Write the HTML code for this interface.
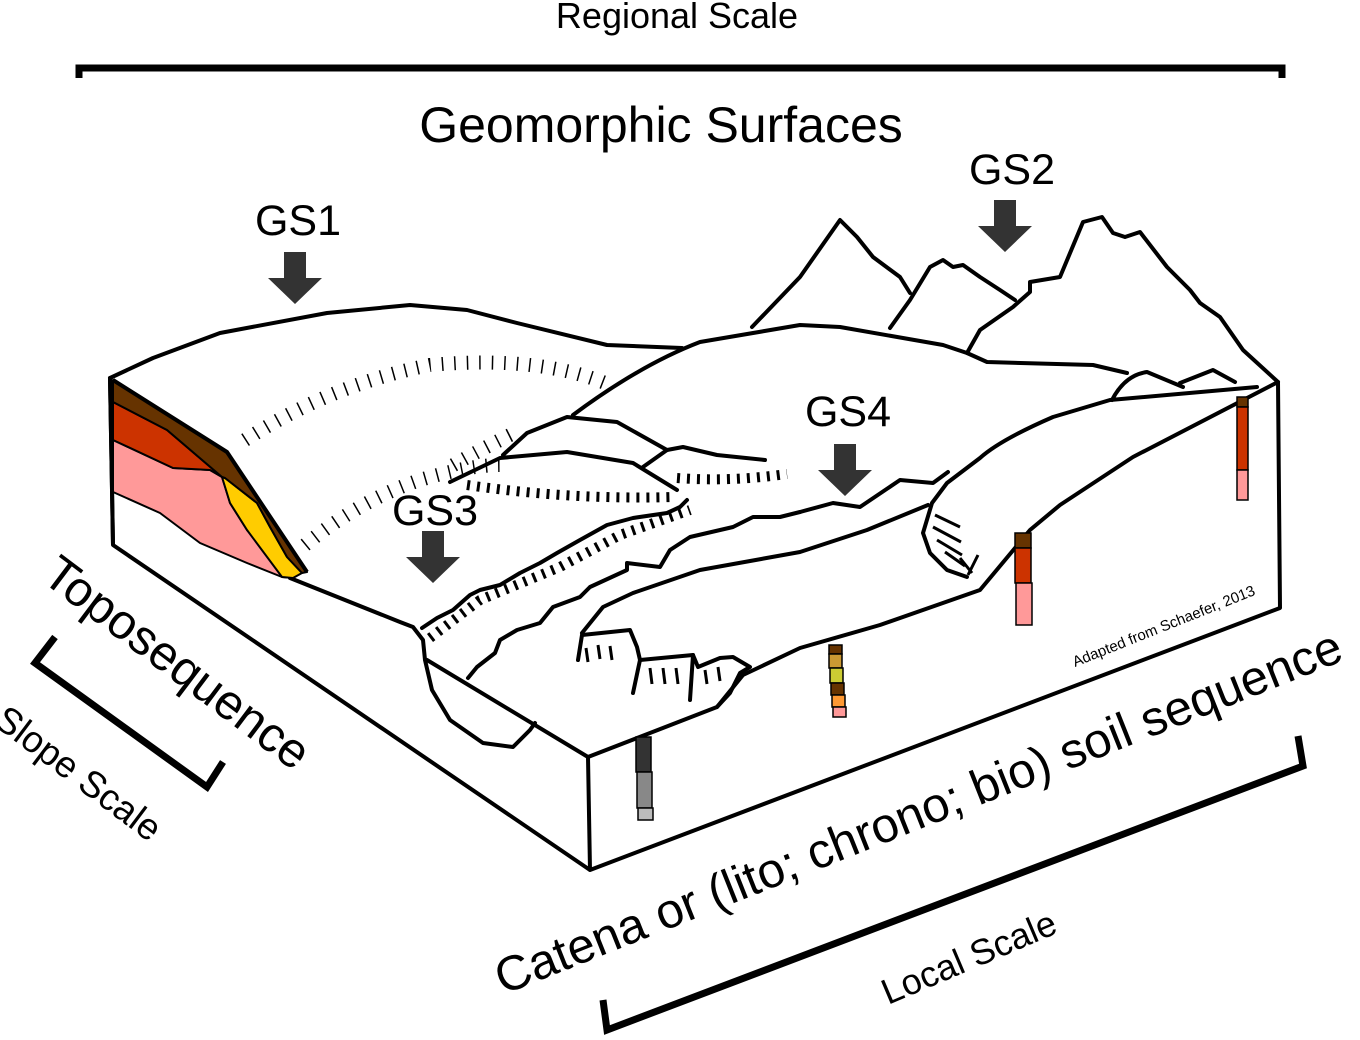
<!DOCTYPE html>
<html><head><meta charset="utf-8"><style>
html,body{margin:0;padding:0;background:#fff;}
svg{display:block;}
text{font-family:"Liberation Sans",Arial,sans-serif;fill:#000;}
</style></head><body>
<svg width="1360" height="1040" viewBox="0 0 1360 1040" xmlns="http://www.w3.org/2000/svg">
<rect width="1360" height="1040" fill="#fff"/>
<text x="677" y="28" font-size="36" text-anchor="middle">Regional Scale</text>
<path d="M79,78 V68 H1282 V78" fill="none" stroke="#000" stroke-width="7"/>
<text x="661" y="142" font-size="50" text-anchor="middle">Geomorphic Surfaces</text>

<g fill="none" stroke="#000" stroke-width="4" stroke-linejoin="round" stroke-linecap="round">
<path d="M752,327 L800,277 L840,220 L857,237 L873,257 L900,277 L910,293"/>
<path d="M890,328 L910,300 L930,267 L943,260 L953,267 L963,265 L980,277 L1000,290 L1015,300"/>
<path d="M967,353 L980,330 L1013,307 L1030,292 L1030,282 L1060,277 L1083,222 L1102,217 L1113,233 L1125,237 L1140,232 L1167,267 L1190,290 L1200,303 L1220,317 L1243,350 L1278,382"/>
<path d="M110,378 L153,358 L220,333 L327,313 L410,305 L467,310 L517,323 L607,345 L682,348"/>
<path d="M573,415 Q640,365 700,342 L800,325 L840,327 L943,345 L967,353 L987,362 L1093,365 L1127,373"/>
<path d="M1112,400 Q1125,375 1147,372 L1183,387"/>
<path d="M1180,383 L1213,370 L1235,382"/>
<path d="M1257,387 L1110,400 L1053,417 Q1000,440 980,458 L947,483 L932,503 L923,533 L930,553 L947,570 L967,577"/>
<path d="M110,378 L113,545 L590,870 L1280,608 L1278,382 L1133,457 L1060,505 L1030,530 L980,590 L880,625 L800,648 L743,675 L717,707 L650,733 L588,757 L590,870"/>
<path d="M588,757 L427,660"/>
<path d="M290,578 L400,622 L413,627 L423,640 L425,660 L432,690 L450,720 L483,743 L513,747 L530,730 L535,723"/>
<path d="M800,512 L833,503 L860,507 L900,480 L933,483 L948,472"/>
<path d="M582,633 L603,607 L633,593 L700,570 L800,552 L867,530 L928,505"/>
<path d="M503,455 L527,433 L567,417 L617,422 L667,450"/>
<path d="M450,482 L500,458 L567,452 L633,463 L677,490"/>
<path d="M643,467 L667,450 L683,447 L717,455 L765,460"/>
<path d="M422,628 L437,618 L453,610 L470,595 L480,590 L500,585 L520,573 L540,563 L557,553 L580,540 L607,525 L633,518 L667,513 L680,507 L687,500"/>
<path d="M468,678 L477,667 L495,653 L500,640 L517,630 L540,623 L553,607 L580,597 L590,587 L627,570 L627,563 L660,567 L670,550 L690,537 L733,527 L753,517 L780,517 L800,512"/>
<path d="M578,660 L582,635 L630,630 L637,647 L640,660 L693,655 L698,667 L720,658 L733,657 L750,667 L740,673 L730,693 L717,707"/>
<path d="M640,660 L633,693"/><path d="M693,655 L690,700"/>
</g>
<g fill="none" stroke="#000" stroke-width="14" stroke-dasharray="1.5 11">
<path d="M245,440 Q330,385 430,365 Q540,355 610,385"/>
<path d="M305,545 Q360,500 420,480 Q470,465 500,465"/>
<path d="M510,435 Q470,455 445,470"/>
</g>
<g fill="none" stroke="#000" stroke-width="10" stroke-dasharray="3 7">
<path d="M467,485 Q570,500 673,497"/>
<path d="M677,478 Q730,482 787,474"/>
<path d="M430,638 L480,600 L560,567 L620,535 L690,510"/>
</g>
<g fill="none" stroke="#000" stroke-width="3">
<path d="M586,648 l2,14 M598,645 l2,14 M610,646 l2,14 M650,668 l2,16 M663,668 l2,16 M676,668 l2,16 M705,670 l2,14 M718,667 l2,14"/>
<path d="M935,515 l25,12 M933,527 l28,15 M937,540 l25,15 M945,552 l20,14 M960,558 l12,15 M978,555 l-10,20"/>
</g>
<g stroke="#000" stroke-width="2" stroke-linejoin="round">
<path d="M113,492 L160,513 L200,543 L247,563 L282,577 L293,578 L247,530 L230,503 L222,477 L210,470 L173,468 L113,440 Z" fill="#ff9999"/>
<path d="M113,440 L173,468 L210,470 L222,477 L167,430 L113,402 Z" fill="#cc3300"/>
<path d="M222,477 L230,503 L247,530 L282,577 L293,578 L302,573 L287,557 L270,527 L257,503 L225,478 Z" fill="#ffcc00"/>
<path d="M113,380 L227,452 L307,572 L302,573 L287,557 L270,527 L257,503 L225,478 L222,477 L167,430 L113,402 Z" fill="#663300"/>
</g>
<g fill="none" stroke="#000" stroke-width="4" stroke-linejoin="round">
<path d="M110,378 L113,545"/><path d="M113,380 L227,452 L307,572"/>
</g>
<g stroke="#000" stroke-width="1.5">
<rect x="636" y="737" width="15" height="35" fill="#333"/>
<rect x="637" y="772" width="15" height="36" fill="#888"/>
<rect x="638" y="808" width="15" height="12" fill="#bbb"/>
<rect x="829" y="645" width="13" height="9" fill="#663300"/>
<rect x="829" y="654" width="13" height="14" fill="#cc9933"/>
<rect x="830" y="668" width="13" height="15" fill="#cccc33"/>
<rect x="831" y="683" width="13" height="12" fill="#663300"/>
<rect x="832" y="695" width="13" height="12" fill="#ff9933"/>
<rect x="833" y="707" width="13" height="10" fill="#ff9999"/>
<rect x="1015" y="533" width="16" height="15" fill="#663300"/>
<rect x="1015" y="548" width="16" height="35" fill="#cc3300"/>
<rect x="1016" y="583" width="16" height="42" fill="#ff9999"/>
<rect x="1237" y="397" width="11" height="10" fill="#663300"/>
<rect x="1237" y="407" width="11" height="63" fill="#cc3300"/>
<rect x="1237" y="470" width="11" height="30" fill="#ff9999"/>
</g>
<g fill="#333">
<path d="M284,252 h22 v26 h16 l-27,26 l-27,-26 h16 z"/>
<path d="M994,200 h22 v26 h16 l-27,26 l-27,-26 h16 z"/>
<path d="M834,444 h22 v26 h16 l-27,26 l-27,-26 h16 z"/>
<path d="M422,531 h22 v26 h16 l-27,26 l-27,-26 h16 z"/>
</g>
<text x="298" y="235" font-size="43" text-anchor="middle">GS1</text>
<text x="1012" y="184" font-size="43" text-anchor="middle">GS2</text>
<text x="848" y="426" font-size="43" text-anchor="middle">GS4</text>
<text x="435" y="525" font-size="43" text-anchor="middle">GS3</text>
<text transform="translate(40,580) rotate(37)" font-size="49">Toposequence</text>
<path d="M55,637 L35,663 L207,787 L223,762" fill="none" stroke="#000" stroke-width="7"/>
<text transform="translate(-8,724) rotate(37)" font-size="37">Slope Scale</text>
<text transform="translate(503,995) rotate(-21.7)" font-size="49">Catena or (lito; chrono; bio) soil sequence</text>
<path d="M603,1000 L607,1030 L1303,766 L1298,736" fill="none" stroke="#000" stroke-width="7"/>
<text transform="translate(888,1005) rotate(-23)" font-size="36">Local Scale</text>
<text transform="translate(1075,667) rotate(-21.8)" font-size="15">Adapted from Schaefer, 2013</text>
</svg>
</body></html>
